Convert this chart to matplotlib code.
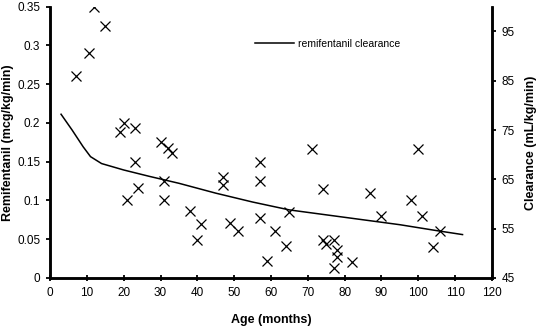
import matplotlib.pyplot as plt
from matplotlib.lines import Line2D

plt.rcParams['font.family'] = ['Liberation Sans', 'DejaVu Sans']

# individual patients: age (months) vs remifentanil dose
age = [7, 10.5, 12, 15, 19, 20, 23, 23, 24, 21, 30, 32, 33, 31, 31,
       38, 41, 40, 47, 47, 49, 51, 57, 57, 57, 59, 61, 64, 65, 71,
       74, 74, 75, 77, 78, 78, 77, 82, 87, 90, 98, 100, 101, 106, 104]
remi = [0.26, 0.29, 0.35, 0.325, 0.189, 0.2, 0.193, 0.15, 0.116, 0.1,
        0.176, 0.168, 0.161, 0.125, 0.1, 0.087, 0.07, 0.049, 0.13, 0.12,
        0.071, 0.061, 0.15, 0.125, 0.077, 0.022, 0.06, 0.041, 0.085, 0.167,
        0.115, 0.049, 0.044, 0.049, 0.036, 0.027, 0.013, 0.02, 0.11, 0.08,
        0.1, 0.167, 0.08, 0.06, 0.04]

# clearance curve (right axis)
cl_age = [3, 6, 9, 11, 14, 20, 27, 35, 45, 55, 65, 75, 85, 95, 105, 112]
clearance = [78.2, 75.0, 71.6, 69.6, 68.2, 66.9, 65.6, 64.2, 62.2, 60.4,
             58.8, 57.8, 56.8, 55.8, 54.6, 53.8]

fig = plt.figure(figsize=(5.4, 3.28), dpi=100)
ax = fig.add_axes([0.0926, 0.1525, 0.8185, 0.827])
ax2 = ax.twinx()

ax.plot(age, remi, linestyle='none', marker='x', markersize=7.5,
        markeredgewidth=0.9, color='black')
ax2.plot(cl_age, clearance, color='black', linewidth=1.1)

ax.set_xlim(0, 120)
ax.set_ylim(0, 0.35)
ax2.set_ylim(45, 100)
ax.set_xticks(range(0, 121, 10))
ax.set_yticks([0, 0.05, 0.1, 0.15, 0.2, 0.25, 0.3, 0.35])
ax.set_yticklabels(['0', '0.05', '0.1', '0.15', '0.2', '0.25', '0.3', '0.35'])
ax2.set_yticks([45, 55, 65, 75, 85, 95])

for a in (ax, ax2):
    a.spines['top'].set_visible(False)
    for s in ('left', 'right', 'bottom'):
        a.spines[s].set_linewidth(1.8)
    a.tick_params(axis='y', direction='out', length=3, width=1.3,
                  labelsize=8.5, pad=4)
ax.tick_params(axis='x', direction='inout', length=5, width=1.3,
               labelsize=8.5, pad=4)

ax.set_xlabel('Age (months)', fontsize=9, fontweight='bold', labelpad=11)
ax.set_ylabel('Remifentanil (mcg/kg/min)', fontsize=9, fontweight='bold',
              labelpad=2)
ax2.set_ylabel('Clearance (mL/kg/min)', fontsize=9, fontweight='bold',
               labelpad=7)

handle = Line2D([], [], color='black', linewidth=1.1)
ax2.legend([handle], ['remifentanil clearance'], loc='center left',
           bbox_to_anchor=(0.464, 0.863), frameon=False, fontsize=7.5,
           handlelength=3.7, handletextpad=0.4, borderpad=0,
           borderaxespad=0)

fig.savefig('out.png', dpi=100)
